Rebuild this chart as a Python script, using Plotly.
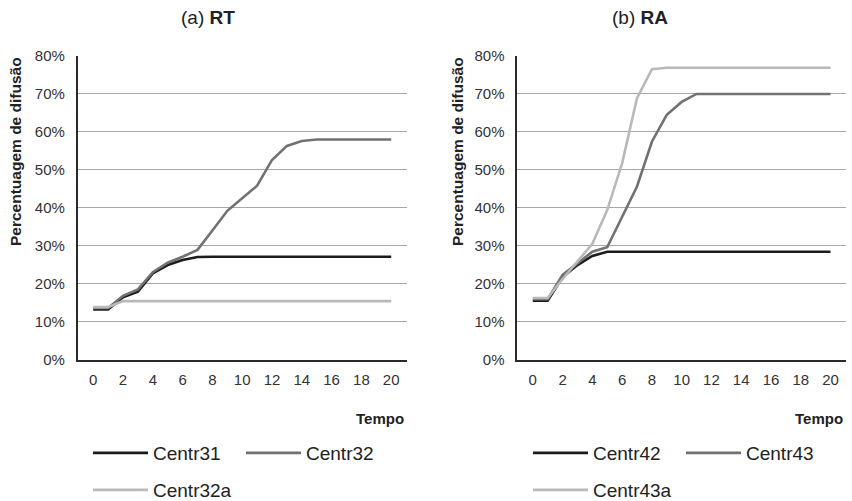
import plotly.graph_objects as go

# ---------------- data ----------------
tempo = [0, 1, 2, 3, 4, 5, 6, 7, 8, 9, 10, 11, 12, 13, 14, 15, 16, 17, 18, 19, 20]
x_ticks = [0, 2, 4, 6, 8, 10, 12, 14, 16, 18, 20]
y_ticks = [0, 0.1, 0.2, 0.3, 0.4, 0.5, 0.6, 0.7, 0.8]

# (a) RT
centr31 = [0.132, 0.132, 0.164, 0.179, 0.227, 0.249, 0.262, 0.270, 0.271, 0.271, 0.271,
           0.271, 0.271, 0.271, 0.271, 0.271, 0.271, 0.271, 0.271, 0.271, 0.271]
centr32 = [0.136, 0.136, 0.168, 0.185, 0.230, 0.255, 0.271, 0.289, 0.340, 0.392, 0.425,
           0.458, 0.526, 0.563, 0.576, 0.580, 0.580, 0.580, 0.580, 0.580, 0.580]
centr32a = [0.138, 0.138, 0.154, 0.154, 0.154, 0.154, 0.154, 0.154, 0.154, 0.154, 0.154,
            0.154, 0.154, 0.154, 0.154, 0.154, 0.154, 0.154, 0.154, 0.154, 0.154]

# (b) RA
centr42 = [0.155, 0.155, 0.217, 0.249, 0.273, 0.284, 0.284, 0.284, 0.284, 0.284, 0.284,
           0.284, 0.284, 0.284, 0.284, 0.284, 0.284, 0.284, 0.284, 0.284, 0.284]
centr43 = [0.159, 0.159, 0.223, 0.254, 0.284, 0.296, 0.377, 0.456, 0.574, 0.645, 0.679,
           0.700, 0.700, 0.700, 0.700, 0.700, 0.700, 0.700, 0.700, 0.700, 0.700]
centr43a = [0.162, 0.162, 0.212, 0.258, 0.305, 0.394, 0.517, 0.689, 0.765, 0.769, 0.769,
            0.769, 0.769, 0.769, 0.769, 0.769, 0.769, 0.769, 0.769, 0.769, 0.769]

series_left = [("Centr31", centr31, "#1c1c1c", "legend"),
               ("Centr32", centr32, "#727272", "legend"),
               ("Centr32a", centr32a, "#b9b9b9", "legend2")]
series_right = [("Centr42", centr42, "#1c1c1c", "legend3"),
                ("Centr43", centr43, "#727272", "legend3"),
                ("Centr43a", centr43a, "#b9b9b9", "legend4")]

W, H = 852, 501
REG = "Liberation Sans, Arial, sans-serif"

fig = go.Figure()
for name, vals, col, lg in series_left:
    fig.add_trace(go.Scatter(x=tempo, y=vals, name=name, mode="lines",
                             line=dict(color=col, width=2.6), legend=lg,
                             xaxis="x", yaxis="y"))
for name, vals, col, lg in series_right:
    fig.add_trace(go.Scatter(x=tempo, y=vals, name=name, mode="lines",
                             line=dict(color=col, width=2.6), legend=lg,
                             xaxis="x2", yaxis="y2"))

ydom = [1 - 359.5 / H, 1 - 56 / H]
xax = dict(range=[-1.04, 21.04], tickvals=x_ticks, showgrid=False, zeroline=False,
           showline=True, linecolor="#2a2a2a", linewidth=1.6, ticks="",
           tickfont=dict(family=REG, size=15, color="#333333"), ticklabelstandoff=6,
           fixedrange=True)
yax = dict(range=[0, 0.8], tickvals=y_ticks, tickformat=".0%", showgrid=True,
           gridcolor="#a8a8a8", gridwidth=1, zeroline=False, showline=True,
           linecolor="#2a2a2a", linewidth=1.6, ticks="",
           tickfont=dict(family=REG, size=15, color="#333333"), ticklabelstandoff=8,
           fixedrange=True)

legend_common = dict(orientation="h", yanchor="middle", xanchor="left",
                     font=dict(family=REG, size=19, color="#222222"),
                     bgcolor="rgba(0,0,0,0)", itemwidth=55, itemclick=False,
                     entrywidthmode="pixels", entrywidth=83)

fig.update_layout(
    width=W, height=H, margin=dict(l=0, r=0, t=0, b=0, autoexpand=False),
    paper_bgcolor="white", plot_bgcolor="white", showlegend=True,
    xaxis=dict(domain=[77.7 / W, 406.7 / W], anchor="y", **xax),
    yaxis=dict(domain=ydom, anchor="x", **yax),
    xaxis2=dict(domain=[517.3 / W, 846 / W], anchor="y2", **xax),
    yaxis2=dict(domain=ydom, anchor="x2", **yax),
    legend=dict(x=88 / W, y=1 - 453 / H, **legend_common),
    legend2=dict(x=88 / W, y=1 - 490 / H, **legend_common),
    legend3=dict(x=528 / W, y=1 - 453 / H, **legend_common),
    legend4=dict(x=528 / W, y=1 - 490 / H, **legend_common),
)

annotations = [
    dict(text="(a) <b>RT</b>", x=208 / W, y=1 - 18 / H),
    dict(text="(b) <b>RA</b>", x=640 / W, y=1 - 18 / H),
]
for a in annotations:
    a.update(xref="paper", yref="paper", xanchor="center", yanchor="middle",
             showarrow=False, font=dict(family=REG, size=19, color="#222222"))
    fig.add_annotation(**a)

for xp in (406 / W, 845 / W):
    fig.add_annotation(text="<b>Tempo</b>", x=xp, y=1 - 418 / H, xref="paper", yref="paper",
                       xanchor="right", yanchor="middle", showarrow=False,
                       font=dict(family=REG, size=15, color="#222222"))
for xp in (15 / W, 457 / W):
    fig.add_annotation(text="<b>Percentuagem de difusão</b>", x=xp, y=1 - 152 / H,
                       xref="paper", yref="paper", xanchor="center", yanchor="middle",
                       textangle=-90, showarrow=False,
                       font=dict(family=REG, size=15.5, color="#222222"))

fig.write_html("out.html", config={"displayModeBar": False})
